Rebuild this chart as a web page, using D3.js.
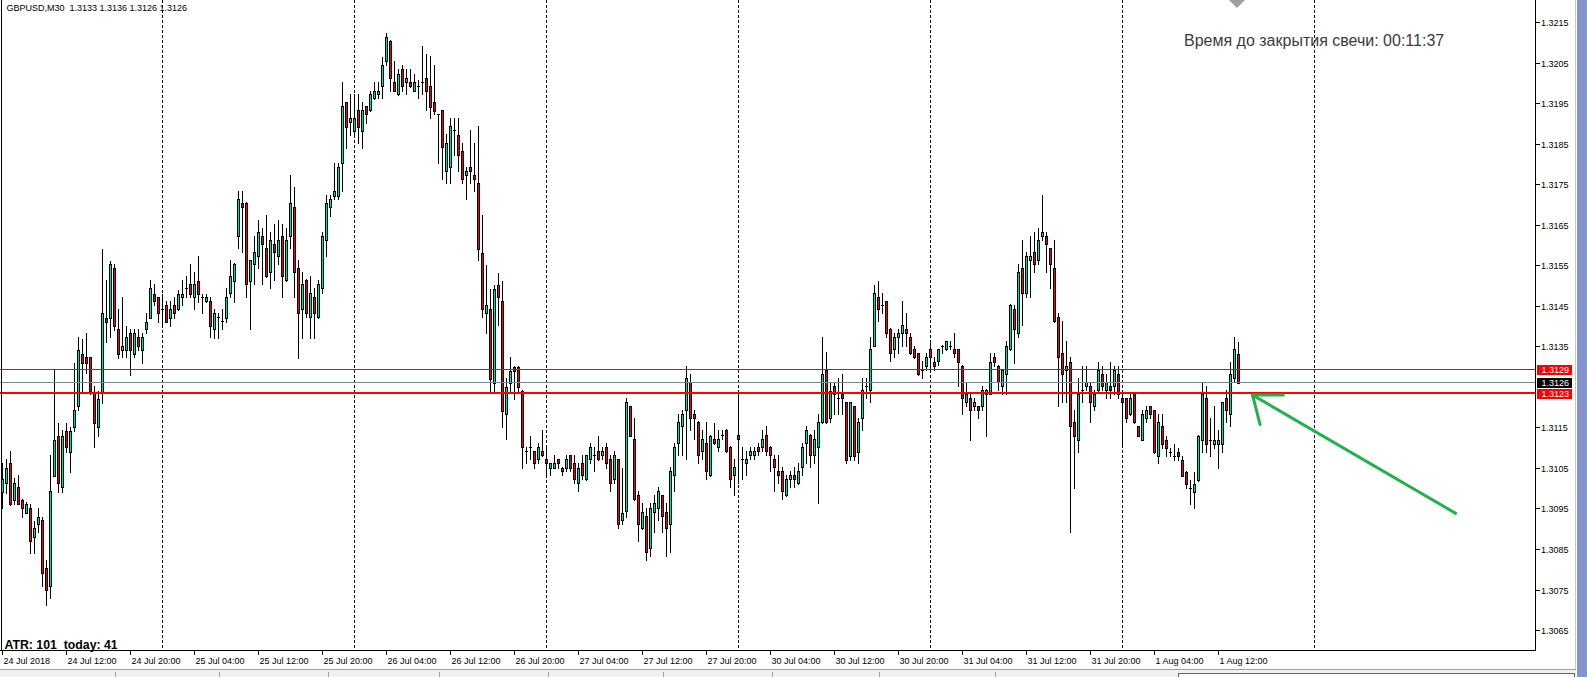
<!DOCTYPE html>
<html><head><meta charset="utf-8">
<script src="https://cdn.jsdelivr.net/npm/d3@7"></script>
<style>
html,body{margin:0;padding:0;background:#fff;overflow:hidden}
svg{display:block}
text{font-family:"Liberation Sans",Arial,sans-serif}
</style></head><body>
<svg id="c" width="1587" height="677"></svg>
<script>
// ---------- DATA ----------
const symbol = "GBPUSD,M30";
const lastQuote = ["1.3133", "1.3136", "1.3126", "1.3126"];
const timerText = "Время до закрытия свечи: 00:11:37";
const atrText = "ATR: 101  today: 41";

const open = [
1.30991,1.31012,1.31061,1.30971,1.31002,1.30972,1.30940,1.30950,1.30880,1.30911,
1.30921,1.30802,1.30759,1.31031,1.31130,1.31002,1.31142,1.31090,1.31152,1.31202,
1.31332,1.31323,1.31323,1.31234,1.31152,1.31234,1.31421,1.31420,1.31542,1.31392,
1.31342,1.31342,1.31382,1.31332,1.31372,1.31342,1.31392,1.31421,1.31480,1.31471,
1.31441,1.31451,1.31421,1.31451,1.31441,1.31471,1.31493,1.31503,1.31471,1.31512,
1.31471,1.31461,1.31461,1.31393,1.31422,1.31413,1.31421,1.31481,1.31512,1.31621,
1.31703,1.31703,1.31512,1.31552,1.31572,1.31621,1.31592,1.31533,1.31602,1.31572,
1.31621,1.31513,1.31621,1.31693,1.31542,1.31441,1.31513,1.31422,1.31471,1.31422,
1.31493,1.31612,1.31693,1.31722,1.31722,1.31801,1.31952,1.31903,1.31882,1.31932,
1.31882,1.31942,1.31932,1.31962,1.31972,1.31991,1.32053,1.32102,1.32001,1.31972,
1.32033,1.32001,1.32001,1.31981,1.31991,1.32001,1.32011,1.31991,1.31952,1.31922,
1.31932,1.31782,1.31792,1.31883,1.31872,1.31831,1.31772,1.31792,1.31772,1.31752,
1.31581,1.31431,1.31443,1.31260,1.31502,1.31461,1.31183,1.31260,1.31300,1.31300,
1.31241,1.31091,1.31101,1.31091,1.31071,1.31091,1.31071,1.31051,1.31051,1.31071,
1.31051,1.31051,1.31081,1.31061,1.31012,1.31061,1.31022,1.31071,1.31081,1.31091,
1.31081,1.31101,1.31071,1.31022,1.31071,1.30922,1.30945,1.31202,1.31121,1.30983,
1.30901,1.30931,1.30852,1.30941,1.30950,1.30983,1.30941,1.30911,1.31033,1.31112,
1.31153,1.31192,1.31261,1.31182,1.31163,1.31092,1.31112,1.31033,1.31121,1.31102,
1.31131,1.31143,1.31102,1.31033,1.31131,1.31072,1.31062,1.31082,1.31082,1.31102,
1.31102,1.31131,1.31102,1.31072,1.31042,1.31042,1.30983,1.31023,1.31033,1.31013,
1.31052,1.31112,1.31131,1.31082,1.31102,1.31163,1.31291,1.31172,1.31251,1.31223,
1.31232,1.31212,1.31080,1.31202,1.31090,1.31172,1.31252,1.31242,1.31352,1.31472,
1.31452,1.31462,1.31392,1.31343,1.31372,1.31382,1.31392,1.31372,1.31343,1.31333,
1.31291,1.31301,1.31343,1.31311,1.31313,1.31352,1.31343,1.31352,1.31343,1.31343,
1.31301,1.31212,1.31222,1.31202,1.31202,1.31202,1.31232,1.31232,1.31323,1.31301,
1.31252,1.31282,1.31343,1.31442,1.31382,1.31542,1.31482,1.31562,1.31582,1.31562,
1.31622,1.31622,1.31592,1.31542,1.31422,1.31333,1.31292,1.31311,1.31163,1.31120,
1.31242,1.31252,1.31252,1.31202,1.31242,1.31282,1.31242,1.31252,1.31252,1.31282,
1.31222,1.31222,1.31182,1.31232,1.31153,1.31120,1.31172,1.31202,1.31192,1.31080,
1.31153,1.31120,1.31090,1.31080,1.31090,1.31070,1.31041,1.31001,1.30991,1.31021,
1.31120,1.31222,1.31120,1.31110,1.31110,1.31110,1.31222,1.31182,1.31272,1.31330];

const high = [
1.31061,1.31071,1.31091,1.31024,1.31032,1.30974,1.30967,1.30962,1.30920,1.30950,
1.30930,1.30823,1.31082,1.31291,1.31162,1.31143,1.31160,1.31152,1.31309,1.31372,
1.31368,1.31382,1.31323,1.31252,1.31240,1.31591,1.31513,1.31560,1.31552,1.31443,
1.31471,1.31401,1.31392,1.31392,1.31392,1.31382,1.31431,1.31513,1.31503,1.31471,
1.31480,1.31461,1.31461,1.31471,1.31490,1.31513,1.31523,1.31553,1.31533,1.31573,
1.31480,1.31480,1.31471,1.31441,1.31432,1.31441,1.31493,1.31562,1.31555,1.31733,
1.31733,1.31705,1.31564,1.31621,1.31661,1.31641,1.31674,1.31631,1.31651,1.31661,
1.31651,1.31641,1.31773,1.31743,1.31562,1.31533,1.31515,1.31523,1.31493,1.31513,
1.31631,1.31723,1.31723,1.31803,1.31803,1.32001,1.31953,1.31972,1.31972,1.31972,
1.31952,1.31944,1.31981,1.32001,1.32001,1.32063,1.32122,1.32105,1.32053,1.32033,
1.32043,1.32033,1.32033,1.32021,1.32007,1.32090,1.32070,1.32065,1.32044,1.31923,
1.31933,1.31874,1.31912,1.31912,1.31912,1.31852,1.31792,1.31883,1.31852,1.31893,
1.31673,1.31551,1.31492,1.31502,1.31532,1.31512,1.31272,1.31323,1.31302,1.31302,
1.31242,1.31101,1.31130,1.31092,1.31111,1.31144,1.31101,1.31062,1.31081,1.31072,
1.31052,1.31081,1.31082,1.31081,1.31061,1.31081,1.31082,1.31111,1.31101,1.31130,
1.31101,1.31111,1.31081,1.31091,1.31072,1.31051,1.31222,1.31203,1.31172,1.30993,
1.30963,1.30950,1.30963,1.30983,1.31003,1.30984,1.30963,1.31052,1.31112,1.31182,
1.31192,1.31302,1.31281,1.31192,1.31165,1.31143,1.31163,1.31131,1.31161,1.31143,
1.31143,1.31145,1.31103,1.31072,1.31234,1.31102,1.31092,1.31102,1.31102,1.31112,
1.31143,1.31153,1.31103,1.31082,1.31082,1.31052,1.31033,1.31042,1.31052,1.31062,
1.31112,1.31153,1.31133,1.31143,1.31182,1.31374,1.31335,1.31261,1.31261,1.31272,
1.31282,1.31213,1.31213,1.31204,1.31172,1.31272,1.31272,1.31372,1.31501,1.31512,
1.31482,1.31463,1.31394,1.31382,1.31392,1.31462,1.31432,1.31382,1.31352,1.31334,
1.31313,1.31333,1.31362,1.31323,1.31344,1.31353,1.31364,1.31362,1.31382,1.31344,
1.31303,1.31262,1.31232,1.31222,1.31204,1.31252,1.31244,1.31333,1.31333,1.31303,
1.31293,1.31362,1.31454,1.31452,1.31552,1.31612,1.31582,1.31622,1.31632,1.31642,
1.31723,1.31632,1.31593,1.31612,1.31431,1.31412,1.31362,1.31323,1.31192,1.31272,
1.31301,1.31301,1.31262,1.31242,1.31311,1.31301,1.31282,1.31311,1.31301,1.31301,
1.31242,1.31223,1.31232,1.31234,1.31154,1.31192,1.31202,1.31204,1.31194,1.31182,
1.31182,1.31130,1.31100,1.31110,1.31100,1.31080,1.31042,1.31021,1.31041,1.31131,
1.31262,1.31252,1.31172,1.31202,1.31143,1.31213,1.31242,1.31311,1.31372,1.31360];

const low = [
1.30950,1.30987,1.30959,1.30962,1.30960,1.30930,1.30939,1.30841,1.30841,1.30891,
1.30759,1.30712,1.30728,1.31030,1.30991,1.30991,1.31090,1.31041,1.31142,1.31193,
1.31234,1.31283,1.31232,1.31101,1.31129,1.31211,1.31361,1.31374,1.31390,1.31322,
1.31323,1.31323,1.31280,1.31323,1.31341,1.31309,1.31382,1.31420,1.31451,1.31411,
1.31402,1.31410,1.31401,1.31421,1.31440,1.31451,1.31472,1.31471,1.31441,1.31460,
1.31431,1.31460,1.31372,1.31371,1.31371,1.31392,1.31411,1.31471,1.31460,1.31592,
1.31582,1.31472,1.31392,1.31503,1.31542,1.31503,1.31520,1.31493,1.31513,1.31552,
1.31472,1.31510,1.31592,1.31472,1.31322,1.31371,1.31422,1.31371,1.31371,1.31420,
1.31481,1.31572,1.31672,1.31713,1.31713,1.31732,1.31840,1.31871,1.31871,1.31852,
1.31840,1.31902,1.31930,1.31960,1.31962,1.31962,1.32043,1.31981,1.31980,1.31970,
1.31981,1.31972,1.31990,1.31980,1.31962,1.31972,1.31932,1.31912,1.31922,1.31801,
1.31762,1.31752,1.31752,1.31822,1.31782,1.31752,1.31713,1.31752,1.31732,1.31562,
1.31423,1.31382,1.31239,1.31239,1.31402,1.31152,1.31121,1.31241,1.31221,1.31241,
1.31051,1.31061,1.31071,1.31051,1.31061,1.31080,1.31032,1.31032,1.31050,1.31051,
1.31032,1.31042,1.31042,1.31012,1.30992,1.31022,1.31020,1.31061,1.31042,1.31070,
1.31071,1.31051,1.30992,1.31012,1.30902,1.30912,1.30930,1.31128,1.30971,1.30871,
1.30900,1.30822,1.30832,1.30891,1.30921,1.30891,1.30832,1.30842,1.30993,1.31082,
1.31082,1.31072,1.31143,1.31121,1.31062,1.31072,1.31023,1.31031,1.31110,1.31092,
1.31121,1.31090,1.31003,1.30983,1.31012,1.31023,1.31033,1.31072,1.31072,1.31082,
1.31092,1.31082,1.31042,1.30993,1.31013,1.30973,1.30982,1.31003,1.31003,1.31011,
1.31033,1.31062,1.31052,1.31062,1.30963,1.31161,1.31161,1.31163,1.31182,1.31182,
1.31182,1.31061,1.31070,1.31070,1.31061,1.31143,1.31223,1.31212,1.31351,1.31413,
1.31432,1.31372,1.31313,1.31323,1.31333,1.31352,1.31352,1.31331,1.31321,1.31280,
1.31272,1.31292,1.31292,1.31292,1.31303,1.31333,1.31341,1.31343,1.31323,1.31252,
1.31182,1.31202,1.31120,1.31192,1.31172,1.31192,1.31130,1.31232,1.31301,1.31242,
1.31232,1.31232,1.31341,1.31310,1.31372,1.31403,1.31471,1.31471,1.31533,1.31552,
1.31612,1.31533,1.31493,1.31411,1.31202,1.31212,1.31212,1.30893,1.31001,1.31090,
1.31212,1.31242,1.31163,1.31192,1.31240,1.31242,1.31222,1.31222,1.31232,1.31222,
1.31107,1.31163,1.31180,1.31161,1.31128,1.31118,1.31163,1.31172,1.31088,1.31061,
1.31100,1.31080,1.31080,1.31070,1.31070,1.31029,1.31001,1.30962,1.30950,1.31019,
1.31090,1.31090,1.31080,1.31100,1.31051,1.31090,1.31163,1.31153,1.31262,1.31260];

const close = [
1.31022,1.31051,1.30962,1.31012,1.30962,1.30950,1.30962,1.30870,1.30901,1.30930,
1.30791,1.30749,1.30993,1.31120,1.31012,1.31130,1.31101,1.31142,1.31192,1.31342,
1.31310,1.31310,1.31240,1.31162,1.31221,1.31431,1.31411,1.31552,1.31401,1.31332,
1.31352,1.31372,1.31342,1.31382,1.31352,1.31372,1.31411,1.31493,1.31461,1.31431,
1.31441,1.31411,1.31441,1.31431,1.31480,1.31480,1.31493,1.31480,1.31503,1.31480,
1.31471,1.31471,1.31401,1.31432,1.31422,1.31413,1.31471,1.31523,1.31552,1.31713,
1.31693,1.31503,1.31562,1.31582,1.31631,1.31602,1.31523,1.31612,1.31582,1.31612,
1.31523,1.31612,1.31703,1.31533,1.31432,1.31503,1.31432,1.31481,1.31432,1.31503,
1.31621,1.31703,1.31713,1.31733,1.31792,1.31942,1.31892,1.31912,1.31912,1.31892,
1.31932,1.31922,1.31972,1.31981,1.31981,1.32043,1.32112,1.32011,1.31981,1.32021,
1.31991,1.32011,1.31991,1.32001,1.31991,1.32001,1.31981,1.31941,1.31931,1.31922,
1.31841,1.31852,1.31893,1.31883,1.31821,1.31762,1.31782,1.31782,1.31762,1.31591,
1.31443,1.31451,1.31270,1.31492,1.31471,1.31191,1.31250,1.31290,1.31290,1.31250,
1.31101,1.31091,1.31101,1.31061,1.31101,1.31081,1.31061,1.31061,1.31061,1.31061,
1.31042,1.31071,1.31051,1.31022,1.31051,1.31032,1.31081,1.31101,1.31081,1.31071,
1.31091,1.31061,1.31012,1.31081,1.30912,1.30940,1.31212,1.31130,1.30973,1.30911,
1.30941,1.30842,1.30950,1.30963,1.30993,1.30931,1.30901,1.31042,1.31102,1.31163,
1.31182,1.31271,1.31172,1.31172,1.31082,1.31121,1.31042,1.31130,1.31112,1.31121,
1.31131,1.31092,1.31023,1.31052,1.31121,1.31072,1.31072,1.31092,1.31092,1.31092,
1.31121,1.31092,1.31082,1.31052,1.31033,1.30993,1.31023,1.31033,1.31023,1.31042,
1.31102,1.31143,1.31082,1.31121,1.31163,1.31281,1.31163,1.31241,1.31232,1.31223,
1.31223,1.31070,1.31212,1.31080,1.31163,1.31242,1.31252,1.31343,1.31482,1.31442,
1.31452,1.31382,1.31333,1.31372,1.31382,1.31402,1.31382,1.31333,1.31323,1.31282,
1.31291,1.31323,1.31323,1.31301,1.31343,1.31352,1.31362,1.31352,1.31333,1.31311,
1.31222,1.31232,1.31192,1.31212,1.31192,1.31242,1.31242,1.31311,1.31311,1.31262,
1.31292,1.31352,1.31452,1.31392,1.31533,1.31482,1.31572,1.31572,1.31552,1.31612,
1.31632,1.31602,1.31552,1.31412,1.31323,1.31282,1.31301,1.31153,1.31130,1.31232,
1.31242,1.31262,1.31212,1.31232,1.31292,1.31252,1.31262,1.31242,1.31292,1.31232,
1.31212,1.31172,1.31222,1.31163,1.31130,1.31182,1.31192,1.31182,1.31090,1.31163,
1.31110,1.31100,1.31090,1.31080,1.31080,1.31031,1.31011,1.31001,1.31011,1.31130,
1.31232,1.31110,1.31120,1.31120,1.31120,1.31212,1.31192,1.31282,1.31343,1.31260];

// price axis (1.3125 is hidden behind the price markers in the original)
const priceTicks = [1.3215,1.3205,1.3195,1.3185,1.3175,1.3165,1.3155,1.3145,1.3135,1.3115,1.3105,1.3095,1.3085,1.3075,1.3065];
const priceTickLabels = ["1.3215","1.3205","1.3195","1.3185","1.3175","1.3165","1.3155","1.3145","1.3135","1.3115","1.3105","1.3095","1.3085","1.3075","1.3065"];
// time axis (bar index of each label)
const timeTickBars = [0,16,32,48,64,80,96,112,128,144,160,176,192,208,224,240,256,272,288,304];
const timeTickLabels = ["24 Jul 2018","24 Jul 12:00","24 Jul 20:00","25 Jul 04:00","25 Jul 12:00","25 Jul 20:00","26 Jul 04:00","26 Jul 12:00","26 Jul 20:00","27 Jul 04:00","27 Jul 12:00","27 Jul 20:00","30 Jul 04:00","30 Jul 12:00","30 Jul 20:00","31 Jul 04:00","31 Jul 12:00","31 Jul 20:00","1 Aug 04:00","1 Aug 12:00"];
// day separators (bar index of each midnight)
const daySeparatorBars = [40,88,136,184,232,280,328];
// horizontal levels
const resistanceLevel = 1.31292;
const supportLevel = 1.31234;
const bidPrice = 1.3126;
// green hand-drawn arrow: [bar index, price] points
const arrowShaft = [[363.3, 1.30938], [312.5, 1.31230]];
const arrowHeadA = [[312.5, 1.31230], [320.2, 1.31230]];
const arrowHeadB = [[312.5, 1.31230], [314.4, 1.31157]];

// ---------- CHART ----------
const W = 1587, H = 677;
const svg = d3.select("#c").attr("shape-rendering","crispEdges");
const nVisible = 383.25;
const x = d3.scaleLinear().domain([0, nVisible]).range([2.5, 1535.5]);
const y = d3.scaleLinear().domain([1.3065, 1.3215]).range([630.1, 22]);
const axisX = 1535.5, axisY = 650.5;
const bull = "#00e676", bear = "#ff0000";

svg.append("rect").attr("width",W).attr("height",H).attr("fill","#fff");

// day separators
svg.append("g").selectAll("line").data(daySeparatorBars).join("line")
  .attr("x1",d=>x(d)).attr("x2",d=>x(d)).attr("y1",0).attr("y2",650)
  .attr("stroke","#000").attr("stroke-dasharray","3,2");

// candles
const bars = d3.range(open.length).map(i=>({i,o:open[i],h:high[i],l:low[i],c:close[i]}));
const gC = svg.append("g");
bars.forEach(d=>{
  const cx = x(d.i);
  const yh = Math.round(y(d.h)), yl = Math.round(y(d.l));
  const yo = Math.round(y(d.o)), yc = Math.round(y(d.c));
  gC.append("line").attr("x1",cx).attr("x2",cx).attr("y1",yh).attr("y2",yl+1).attr("stroke","#000");
  const top = Math.min(yo,yc), bot = Math.max(yo,yc);
  if (bot - top < 1) {
    gC.append("line").attr("x1",cx-1.5).attr("x2",cx+1.5).attr("y1",top+0.5).attr("y2",top+0.5).attr("stroke","#000");
  } else {
    gC.append("rect").attr("x",cx-1).attr("y",top+0.5).attr("width",2).attr("height",bot-top)
      .attr("fill", d.c >= d.o ? bull : bear).attr("stroke","#000");
  }
});

// level lines
const yl1 = Math.floor(y(resistanceLevel))+0.5;
const ylb = Math.floor(y(bidPrice))+0.5;
const yl2 = Math.round(y(supportLevel));
svg.append("line").attr("x1",0).attr("x2",axisX).attr("y1",yl1).attr("y2",yl1).attr("stroke","#ff0000");
svg.append("line").attr("x1",0).attr("x2",axisX).attr("y1",ylb).attr("y2",ylb).attr("stroke","#778899");
svg.append("line").attr("x1",0).attr("x2",axisX).attr("y1",yl2).attr("y2",yl2).attr("stroke","#ff0000").attr("stroke-width",2);

// frame
svg.append("line").attr("x1",1.5).attr("x2",1.5).attr("y1",0).attr("y2",axisY).attr("stroke","#000");
svg.append("line").attr("x1",axisX).attr("x2",axisX).attr("y1",0).attr("y2",axisY+0.5).attr("stroke","#000");
svg.append("line").attr("x1",0).attr("x2",axisX).attr("y1",axisY).attr("y2",axisY).attr("stroke","#000");

// price axis
const gY = svg.append("g");
priceTicks.forEach((p,k)=>{
  const yy = Math.round(y(p))+0.5;
  gY.append("line").attr("x1",axisX).attr("x2",axisX+4).attr("y1",yy).attr("y2",yy).attr("stroke","#000");
  gY.append("text").attr("x",1541).attr("y",yy+3).attr("font-size",9).attr("fill","#000").text(priceTickLabels[k]);
});
// price markers
function marker(p, color, yy){
  svg.append("rect").attr("x",1537).attr("y",yy-5).attr("width",35).attr("height",10).attr("fill",color);
  svg.append("text").attr("x",1541.5).attr("y",yy+3.2).attr("font-size",9).attr("fill","#fff").text(p.toFixed(4));
}
marker(resistanceLevel, "#ff0000", yl1);
marker(bidPrice, "#000000", ylb);
marker(supportLevel, "#ff0000", yl2+0.5);

// time axis
const gX = svg.append("g");
timeTickBars.forEach((b,k)=>{
  const xx = x(b);
  gX.append("line").attr("x1",xx).attr("x2",xx).attr("y1",axisY).attr("y2",axisY+4).attr("stroke","#000");
  gX.append("text").attr("x",xx+1).attr("y",663.5).attr("font-size",9).attr("fill","#000").text(timeTickLabels[k]);
});

// header
svg.append("text").attr("x",6.5).attr("y",10.5).attr("font-size",9).attr("fill","#000")
  .attr("xml:space","preserve").style("white-space","pre").text(symbol + "  " + lastQuote.join(" "));

// timer
svg.append("text").attr("x",1184).attr("y",46).attr("font-size",16).attr("fill","#3c3c3c").text(timerText);

// ATR
svg.append("text").attr("x",4.5).attr("y",649).attr("font-size",12.3).attr("font-weight","bold")
  .attr("font-family","'DejaVu Sans',Verdana,sans-serif").attr("fill","#000")
  .attr("xml:space","preserve").style("white-space","pre").text(atrText);

// arrow
const line = d3.line().x(d=>x(d[0])).y(d=>y(d[1]));
const gA = svg.append("g").attr("shape-rendering","auto");
[arrowShaft, arrowHeadA, arrowHeadB].forEach(pts=>{
  gA.append("path").attr("d", line(pts)).attr("stroke","#22b14c").attr("stroke-width",3)
    .attr("fill","none").attr("stroke-linecap","round");
});

// shift marker at top
svg.append("path").attr("d","M1229,0 L1245,0 L1237,8 Z").attr("fill","#a0a0a0").attr("shape-rendering","auto");

// window chrome: right and bottom
svg.append("line").attr("x1",1575.5).attr("x2",1575.5).attr("y1",0).attr("y2",H).attr("stroke","#c8c8c8");
svg.append("rect").attr("x",1577).attr("y",0).attr("width",10).attr("height",H).attr("fill","#8393cc");
svg.append("rect").attr("x",0).attr("y",669).attr("width",1576).attr("height",8).attr("fill","#f0f0f0");
svg.append("line").attr("x1",0).attr("x2",1576).attr("y1",669.5).attr("y2",669.5).attr("stroke","#a0a0a0");
[115,219,328,439,548,663,772,879,995].forEach(xx=>{
  svg.append("line").attr("x1",xx+0.5).attr("x2",xx+0.5).attr("y1",672).attr("y2",H).attr("stroke","#a0a0a0");
});
svg.append("rect").attr("x",1178.5).attr("y",673.5).attr("width",396).attr("height",5).attr("fill","#fff").attr("stroke","#646464");
</script>
</body></html>
